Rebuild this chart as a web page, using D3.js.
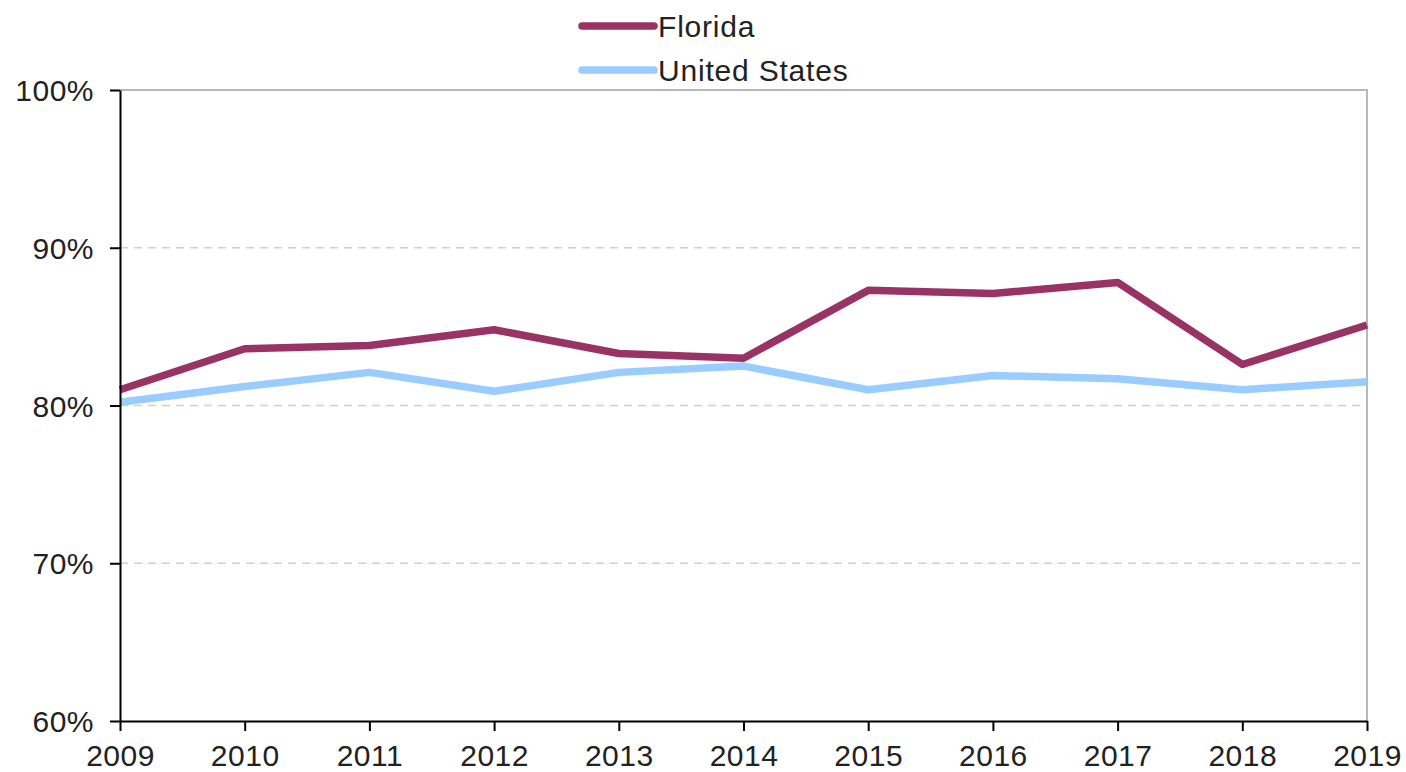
<!DOCTYPE html>
<html>
<head>
<meta charset="utf-8">
<script src="https://cdn.jsdelivr.net/npm/d3@7"></script>
<style>
  body { margin: 0; background: #fff; }
  svg text { font-family: "Liberation Sans", Arial, sans-serif; fill: #222; }
</style>
</head>
<body>
<div id="chart"></div>
<script>
const years = [2009, 2010, 2011, 2012, 2013, 2014, 2015, 2016, 2017, 2018, 2019];
const florida = [81.0, 83.6, 83.8, 84.8, 83.3, 83.0, 87.3, 87.1, 87.8, 82.6, 85.1];
const unitedStates = [80.2, 81.2, 82.1, 80.9, 82.1, 82.5, 81.0, 81.9, 81.7, 81.0, 81.5];
const yTicks = [60, 70, 80, 90, 100];
const seriesNames = ["Florida", "United States"];
const seriesColors = ["#993366", "#99ccff"];

const width = 1406, height = 772;
const margin = { top: 90, right: 39, bottom: 51, left: 120 };
const innerW = width - margin.left - margin.right;
const innerH = height - margin.top - margin.bottom;

const svg = d3.select("#chart").append("svg")
    .attr("width", width)
    .attr("height", height);

const g = svg.append("g").attr("transform", `translate(${margin.left},${margin.top})`);

const x = d3.scaleLinear().domain([2009, 2019]).range([0, innerW]);
const y = d3.scaleLinear().domain([60, 100]).range([innerH, 0]);

// gridlines
g.selectAll(".grid").data(yTicks.filter(t => t > 60 && t < 100)).enter().append("line")
    .attr("x1", 0).attr("x2", innerW)
    .attr("y1", d => y(d)).attr("y2", d => y(d))
    .attr("stroke", "#d0d0d0")
    .attr("stroke-width", 1.5)
    .attr("stroke-dasharray", "8,6");

// top and right border
g.append("path")
    .attr("d", `M0,${y(100)}H${innerW}V${innerH}`)
    .attr("fill", "none")
    .attr("stroke", "#b8b8b8")
    .attr("stroke-width", 2);

// lines
const line = d3.line().x((d, i) => x(years[i])).y(d => y(d));
[florida, unitedStates].forEach((vals, i) => {
  g.append("path")
      .datum(vals)
      .attr("d", line)
      .attr("fill", "none")
      .attr("stroke", seriesColors[i])
      .attr("stroke-width", 7.5)
      .attr("stroke-linejoin", "round");
});

// axes
const yAxis = g.append("g")
    .call(d3.axisLeft(y).tickValues(yTicks).tickFormat(d => d + "%").tickSize(10).tickSizeOuter(0));
const xAxis = g.append("g").attr("transform", `translate(0,${innerH})`)
    .call(d3.axisBottom(x).tickValues(years).tickFormat(d3.format("d")).tickSize(10).tickSizeOuter(0));

[xAxis, yAxis].forEach(a => {
  a.select(".domain").attr("stroke", "#000").attr("stroke-width", 2);
  a.selectAll(".tick line").attr("stroke", "#000").attr("stroke-width", 2);
  a.selectAll("text").style("font-size", "30px").style("letter-spacing", "0.5px").attr("fill", "#222");
});
yAxis.selectAll("text").attr("x", -26).attr("dy", "0.35em");
xAxis.selectAll("text").attr("y", 45).attr("dy", null);

// legend
const legend = svg.append("g").attr("transform", "translate(580,26)");
seriesNames.forEach((name, i) => {
  const row = legend.append("g").attr("transform", `translate(0,${i * 44})`);
  row.append("line")
      .attr("x1", 2).attr("x2", 74)
      .attr("stroke", seriesColors[i])
      .attr("stroke-width", 7.5)
      .attr("stroke-linecap", "round");
  row.append("text")
      .attr("x", 78)
      .attr("dy", "0.35em")
      .style("font-size", "30px")
      .style("letter-spacing", "0.8px")
      .text(name);
});
</script>
</body>
</html>
